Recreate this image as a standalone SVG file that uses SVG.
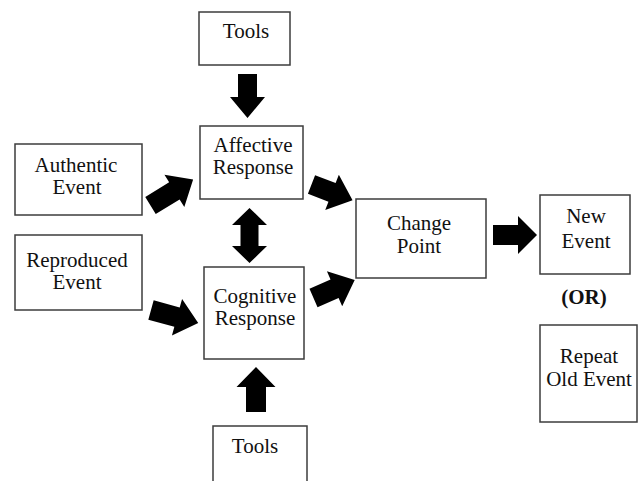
<svg xmlns="http://www.w3.org/2000/svg" width="639" height="481" viewBox="0 0 639 481">
<style>
.box{fill:#fff;stroke:#3c3c3c;stroke-width:1.5}
.t{font-family:"Liberation Serif","Times New Roman","DejaVu Serif",serif;font-size:21px;fill:#111;text-anchor:middle}
.b{font-weight:bold}
.arr{fill:#000;stroke:none}
</style>
<rect width="639" height="481" fill="#fff"/>
<g id="tools-top"><rect class="box" x="199" y="12" width="91" height="53"/><text class="t" x="246" y="38">Tools</text></g>
<g id="affective"><rect class="box" x="200" y="126" width="103" height="73"/><text class="t" x="253" y="152">Affective</text><text class="t" x="253" y="174">Response</text></g>
<g id="authentic"><rect class="box" x="15" y="144" width="127" height="71"/><text class="t" x="76" y="172">Authentic</text><text class="t" x="77" y="194">Event</text></g>
<g id="reproduced"><rect class="box" x="15" y="235" width="127" height="75"/><text class="t" x="77" y="267">Reproduced</text><text class="t" x="77" y="289">Event</text></g>
<g id="cognitive"><rect class="box" x="204" y="267" width="100" height="92"/><text class="t" x="255" y="303">Cognitive</text><text class="t" x="255" y="325">Response</text></g>
<g id="tools-bottom"><rect class="box" x="213" y="426" width="94" height="70"/><text class="t" x="255" y="453">Tools</text></g>
<g id="change"><rect class="box" x="356" y="199" width="130" height="79"/><text class="t" x="419" y="230">Change</text><text class="t" x="419" y="253">Point</text></g>
<g id="new-event"><rect class="box" x="540" y="195" width="90" height="79"/><text class="t" x="586" y="223">New</text><text class="t" x="586" y="248">Event</text></g>
<g id="or"><text class="t b" x="584" y="304">(OR)</text></g>
<g id="repeat"><rect class="box" x="540" y="325" width="97" height="97"/><text class="t" x="589" y="363">Repeat</text><text class="t" x="589" y="386">Old Event</text></g>
<g id="connectors">
<path class="arr" d="M238,74 H257 V97 H265 L247.5,118 L230,97 H238 Z"/>
<path class="arr" d="M246,412 H266 V387 H275.5 L256,367 L236.5,387 H246 Z"/>
<path class="arr" d="M249.5,208 L267,225 H258.5 V246 H267 L249.5,263 L232,246 H240.5 V225 H232 Z"/>
<path class="arr" d="M493,225 H518 V216 L537,235 L518,254 V245 H493 Z"/>
<path class="arr" transform="translate(150.5,205.5) rotate(-31.5)" d="M0,-10 H28 V-19 L50,0 L28,19 V10 H0 Z"/>
<path class="arr" transform="translate(151,310) rotate(15.5)" d="M0,-10 H27 V-19 L49,0 L27,19 V10 H0 Z"/>
<path class="arr" transform="translate(311.5,184.5) rotate(21)" d="M0,-10 H22 V-19 L44,0 L22,19 V10 H0 Z"/>
<path class="arr" transform="translate(313.5,298) rotate(-23.7)" d="M0,-10 H23 V-19 L45,0 L23,19 V10 H0 Z"/>
</g>
</svg>
